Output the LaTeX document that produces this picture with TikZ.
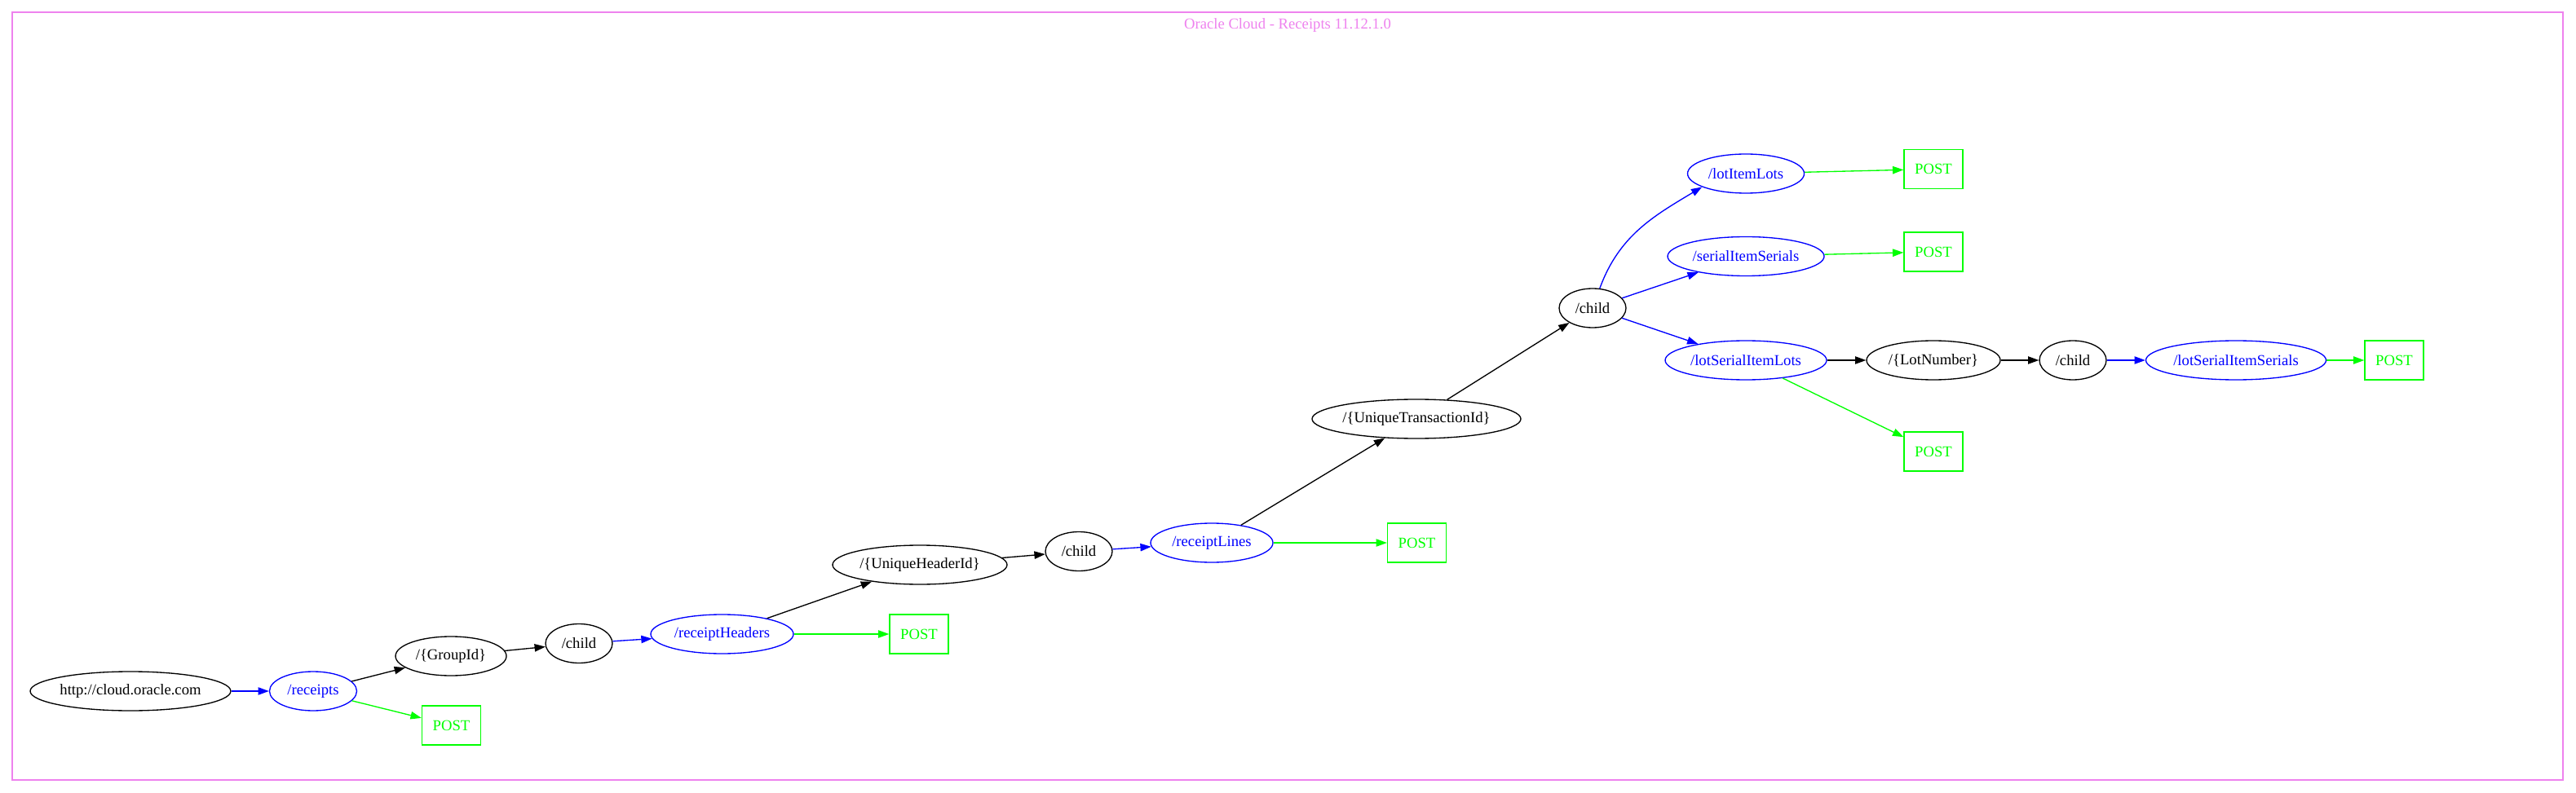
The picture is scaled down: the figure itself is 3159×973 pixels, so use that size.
\documentclass[tikz,border=0pt]{standalone}
\usepackage{fontspec}
\setmainfont{Liberation Serif}
\usepackage{xcolor}
\usetikzlibrary{shapes.geometric,arrows.meta}
\definecolor{frame violet}{HTML}{EE82EE}
\colorlet{res color}{blue}
\colorlet{verb color}{green}
\tikzset{label font/.style={font=\fontsize{14}{17}\selectfont},
    param/.style={ellipse, draw=black, line width=1pt, inner sep=0pt,
      minimum height=36pt, minimum width=#1*0.75pt, label font},
    resource/.style={param=#1, draw=res color, text=res color},
    verb/.style={rectangle, draw=verb color, text=verb color, line width=1pt,
      inner sep=0pt, minimum width=54pt, minimum height=36pt, label font},
    link/.style={-{Triangle[length=10pt,width=7pt]}, line width=1pt}}

\begin{document}
\begin{tikzpicture}[x=0.75pt, y=-0.75pt]
    \useasboundingbox (0,0) rectangle (3159,973);
    \draw[frame violet, line width=1pt] (15,15) rectangle (3143,957);
    \node[label font, text=frame violet, anchor=base] (title) at (1579,36)
      {Oracle Cloud - Receipts 11.12.1.0};

    \node[param=246]    (root)         at (160,848)    {http://cloud.oracle.com};
    \node[resource=107] (receipts)     at (384,848)    {/receipts};
    \node[verb]         (receiptsPost) at (553.5,890)  {POST};
    \node[param=136]    (groupId)      at (553,805)    {/\{GroupId\}};
    \node[param=82]     (childA)       at (710,789.5)  {/child};
    \node[resource=175] (headers)      at (885.5,778)  {/receiptHeaders};
    \node[verb]         (headersPost)  at (1127,778)   {POST};
    \node[param=214]    (headerId)     at (1128,693)   {/\{UniqueHeaderId\}};
    \node[param=82]     (childB)       at (1323,676.5) {/child};
    \node[resource=150] (lines)        at (1486,666)   {/receiptLines};
    \node[verb]         (linesPost)    at (1737.5,666) {POST};
    \node[param=256]    (transId)      at (1737,514)   {/\{UniqueTransactionId\}};
    \node[param=82]     (childC)       at (1953,378)   {/child};
    \node[resource=143] (itemLots)     at (2141,213)   {/lotItemLots};
    \node[verb]         (itemLotsPost) at (2371,207.5) {POST};
    \node[resource=192] (itemSerials)  at (2141,314.5) {/serialItemSerials};
    \node[verb]         (itemSerialsPost) at (2371,309) {POST};
    \node[resource=198] (serialLots)   at (2141,442)   {/lotSerialItemLots};
    \node[verb]         (serialLotsPost) at (2371,554) {POST};
    \node[param=164]    (lotNumber)    at (2371,442)   {/\{LotNumber\}};
    \node[param=82]     (childD)       at (2542,442)   {/child};
    \node[resource=221] (serialSerials) at (2742,442)  {/lotSerialItemSerials};
    \node[verb]         (serialSerialsPost) at (2936,442) {POST};

    \draw[link, res color]  (root) -- (receipts);
    \draw[link]             (receipts) -- (groupId);
    \draw[link, verb color] (receipts) -- (receiptsPost);
    \draw[link]             (groupId) -- (childA);
    \draw[link, res color]  (childA) -- (headers);
    \draw[link, verb color] (headers) -- (headersPost);
    \draw[link]             (headers) -- (headerId);
    \draw[link]             (headerId) -- (childB);
    \draw[link, res color]  (childB) -- (lines);
    \draw[link, verb color] (lines) -- (linesPost);
    \draw[link]             (lines) -- (transId);
    \draw[link]             (transId) -- (childC);
    \draw[link, res color]  (childC.70) to[out=70, in=211] (itemLots.197);
    \draw[link, res color]  (childC) -- (itemSerials);
    \draw[link, res color]  (childC) -- (serialLots);
    \draw[link, verb color] (itemLots) -- (itemLotsPost);
    \draw[link, verb color] (itemSerials) -- (itemSerialsPost);
    \draw[link, verb color] (serialLots) -- (serialLotsPost);
    \draw[link]             (serialLots) -- (lotNumber);
    \draw[link]             (lotNumber) -- (childD);
    \draw[link, res color]  (childD) -- (serialSerials);
    \draw[link, verb color] (serialSerials) -- (serialSerialsPost);
\end{tikzpicture}
\end{document}
